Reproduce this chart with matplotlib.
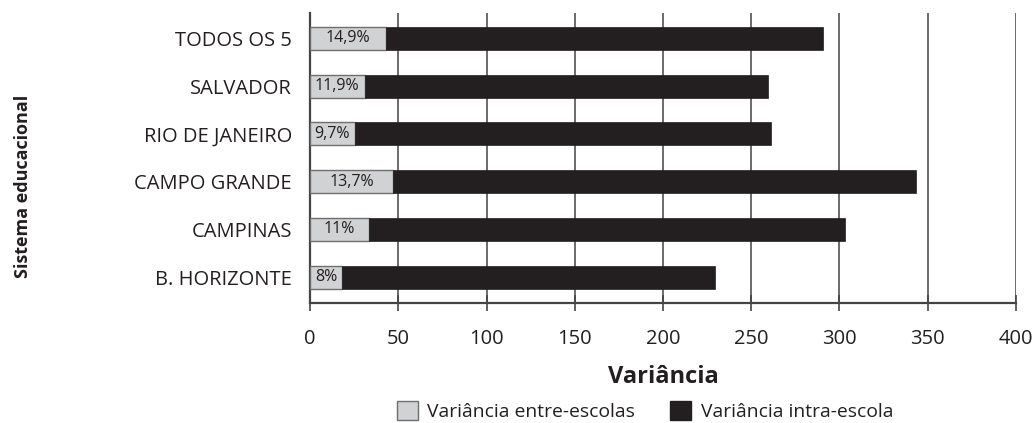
import numpy as np
import matplotlib
matplotlib.use("Agg")
import matplotlib.pyplot as plt
from matplotlib.patches import Patch

# Data (bottom to top)
sistemas = ["B. HORIZONTE", "CAMPINAS", "CAMPO GRANDE", "RIO DE JANEIRO", "SALVADOR", "TODOS OS 5"]
entre_escolas = [18.4, 33.3, 47.0, 25.3, 30.9, 43.3]
intra_escola = [211.1, 269.7, 296.5, 235.7, 228.6, 247.2]
pct_labels = ["8%", "11%", "13,7%", "9,7%", "11,9%", "14,9%"]
xticks = [0, 50, 100, 150, 200, 250, 300, 350, 400]

cor_entre = "#d1d2d4"
cor_borda = "#6d6e70"
cor_intra = "#231f20"
cor_texto = "#231f20"

plt.rcParams['font.family'] = ['Open Sans', 'DejaVu Sans']

fig = plt.figure(figsize=(10.34, 4.23), dpi=100)
ax = fig.add_axes([310/1034, 1-303/423, 706/1034, 290/423])

y = np.arange(len(sistemas))
h = 0.48
bars_e = ax.barh(y, entre_escolas, height=h, color=cor_entre, edgecolor=cor_borda,
                 linewidth=1.0, zorder=3)
ax.barh(y, intra_escola, left=entre_escolas, height=h, color=cor_intra,
        edgecolor=cor_intra, linewidth=0.5, zorder=3)

for b, lab in zip(bars_e, pct_labels):
    ax.text(b.get_width()/2, b.get_y() + b.get_height()/2, lab, ha='center', va='center',
            fontsize=11.5, color=cor_texto, zorder=4)

ax.set_xlim(0, 400)
ax.set_ylim(-0.54, 5.53)
ax.set_xticks(xticks)
ax.set_yticks(y)
ax.set_yticklabels(sistemas)
ax.xaxis.grid(True, color="#444444", linewidth=1.1, zorder=0)
ax.set_axisbelow(True)

for s in ['top', 'right']:
    ax.spines[s].set_visible(False)
ax.spines['left'].set_color("#444444")
ax.spines['left'].set_linewidth(1.6)
ax.spines['bottom'].set_color("#444444")
ax.spines['bottom'].set_linewidth(1.6)

ax.tick_params(axis='y', length=0, pad=13, labelsize=14.5, labelcolor=cor_texto)
ax.tick_params(axis='x', direction='inout', length=12, width=1.2, color="#444444",
               pad=12.5, labelsize=14.5, labelcolor=cor_texto)

ax.set_xlabel("Variância", fontsize=17, fontweight='bold', color=cor_texto, labelpad=12)
fig.text(23/1034, 1-186/423, "Sistema educacional", rotation=90, ha='center', va='center',
         fontsize=13, fontweight='bold', color=cor_texto)

handles = [Patch(facecolor=cor_entre, edgecolor=cor_borda, label="Variância entre-escolas"),
           Patch(facecolor=cor_intra, edgecolor=cor_intra, label="Variância intra-escola")]
fig.legend(handles=handles, loc='center', bbox_to_anchor=(645/1034, 1-411/423), ncol=2,
           frameon=False, fontsize=13.9, handlelength=1.1, handleheight=1.1,
           handletextpad=0.5, columnspacing=1.8, labelcolor=cor_texto,
           borderpad=0, borderaxespad=0)

fig.savefig("out.png", dpi=100)
